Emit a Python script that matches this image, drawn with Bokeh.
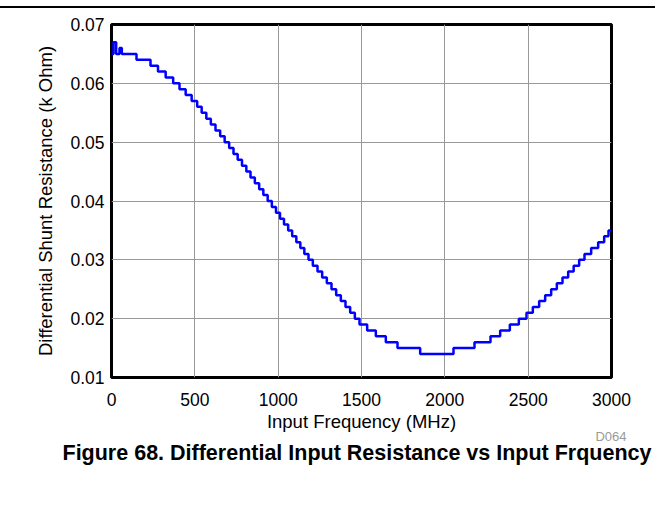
from bokeh.plotting import figure
from bokeh.models import FixedTicker, Title, InlineStyleSheet
from bokeh.embed import file_html
from bokeh.resources import INLINE

# Staircase data: frequency (MHz) where each resistance level starts
step_freq_mhz = [0, 12, 28, 48, 62, 150, 234, 279, 325, 370, 408, 445, 481, 514,
                 541, 569, 596, 624, 652, 679, 706, 732, 757, 783, 809, 834, 860,
                 886, 911, 937, 962, 987, 1011, 1035, 1060, 1084, 1109, 1133, 1157,
                 1182, 1208, 1236, 1264, 1292, 1320, 1348, 1376, 1404, 1432, 1460,
                 1488, 1534, 1586, 1646, 1716, 1852, 2052, 2178, 2274, 2332, 2390,
                 2444, 2490, 2528, 2566, 2602, 2638, 2672, 2706, 2740, 2773, 2806,
                 2838, 2878, 2920, 2956, 2982, 3000]
step_resistance_kohm = [0.065, 0.067, 0.065, 0.066, 0.065, 0.064, 0.063, 0.062, 0.061,
                        0.060, 0.059, 0.058, 0.057, 0.056, 0.055, 0.054, 0.053, 0.052,
                        0.051, 0.050, 0.049, 0.048, 0.047, 0.046, 0.045, 0.044, 0.043,
                        0.042, 0.041, 0.040, 0.039, 0.038, 0.037, 0.036, 0.035, 0.034,
                        0.033, 0.032, 0.031, 0.030, 0.029, 0.028, 0.027, 0.026, 0.025,
                        0.024, 0.023, 0.022, 0.021, 0.020, 0.019, 0.018, 0.017, 0.016,
                        0.015, 0.014, 0.015, 0.016, 0.017, 0.018, 0.019, 0.020, 0.021,
                        0.022, 0.023, 0.024, 0.025, 0.026, 0.027, 0.028, 0.029, 0.030,
                        0.031, 0.032, 0.033, 0.034, 0.035, 0.035]

x_ticks = [0, 500, 1000, 1500, 2000, 2500, 3000]
x_tick_labels = ["0", "500", "1000", "1500", "2000", "2500", "3000"]
y_ticks = [0.01, 0.02, 0.03, 0.04, 0.05, 0.06, 0.07]
y_tick_labels = ["0.01", "0.02", "0.03", "0.04", "0.05", "0.06", "0.07"]

x_title = "Input Frequency (MHz)"
y_title = "Differential Shunt Resistance (k Ohm)"
caption = "Figure 68. Differential Input Resistance vs Input Frquency"
code_label = "D064"

FONT = "Liberation Sans"

rule_css = InlineStyleSheet(css="""
:host::after {
  content: "";
  position: absolute;
  left: 0px;
  top: 6px;
  width: 655px;
  height: 2px;
  background: #000000;
}
""")

p = figure(width=655, height=469, x_range=(0, 3000), y_range=(0.01, 0.07),
           output_backend="svg", toolbar_location=None,
           min_border_left=111, min_border_right=44, min_border_top=24,
           min_border_bottom=40)
p.stylesheets = [rule_css]

p.step(step_freq_mhz, step_resistance_kohm, mode="after", line_color="#0000FF",
       line_width=2.5)

p.outline_line_color = "black"
p.outline_line_width = 3
p.outline_line_alpha = 1

for ax in (p.xaxis, p.yaxis):
    ax.axis_line_color = None
    ax.major_tick_line_color = None
    ax.minor_tick_line_color = None
    ax.major_tick_out = 0
    ax.major_tick_in = 0
    ax.minor_tick_out = 0
    ax.minor_tick_in = 0
    ax.major_label_text_font = FONT
    ax.major_label_text_font_size = "17.5px"
    ax.major_label_text_color = "black"
    ax.axis_label_text_font = FONT
    ax.axis_label_text_font_size = "18.5px"
    ax.axis_label_text_font_style = "normal"
    ax.axis_label_text_color = "black"

p.xaxis.ticker = FixedTicker(ticks=x_ticks)
p.xaxis.major_label_overrides = dict(zip(x_ticks, x_tick_labels))
p.yaxis.ticker = FixedTicker(ticks=y_ticks)
p.yaxis.major_label_overrides = dict(zip(y_ticks, y_tick_labels))
p.xaxis.axis_label = x_title
p.yaxis.axis_label = y_title
p.xaxis.major_label_standoff = 15
p.xaxis.axis_label_standoff = 2
p.yaxis.major_label_standoff = 7
p.yaxis.axis_label_standoff = 11

p.xgrid.ticker = FixedTicker(ticks=x_ticks)
p.ygrid.ticker = FixedTicker(ticks=y_ticks)
p.grid.grid_line_color = "#999999"
p.grid.grid_line_width = 1

p.add_layout(Title(text=code_label, align="right", offset=-15, standoff=-18,
                   text_font=FONT, text_font_size="13px", text_color="#999999",
                   text_font_style="normal"), "below")
p.add_layout(Title(text=caption, align="left", offset=-49, standoff=9,
                   text_font=FONT, text_font_size="21.5px", text_font_style="bold",
                   text_color="black"), "below")

open("out.html", "w").write(file_html(p, INLINE))
